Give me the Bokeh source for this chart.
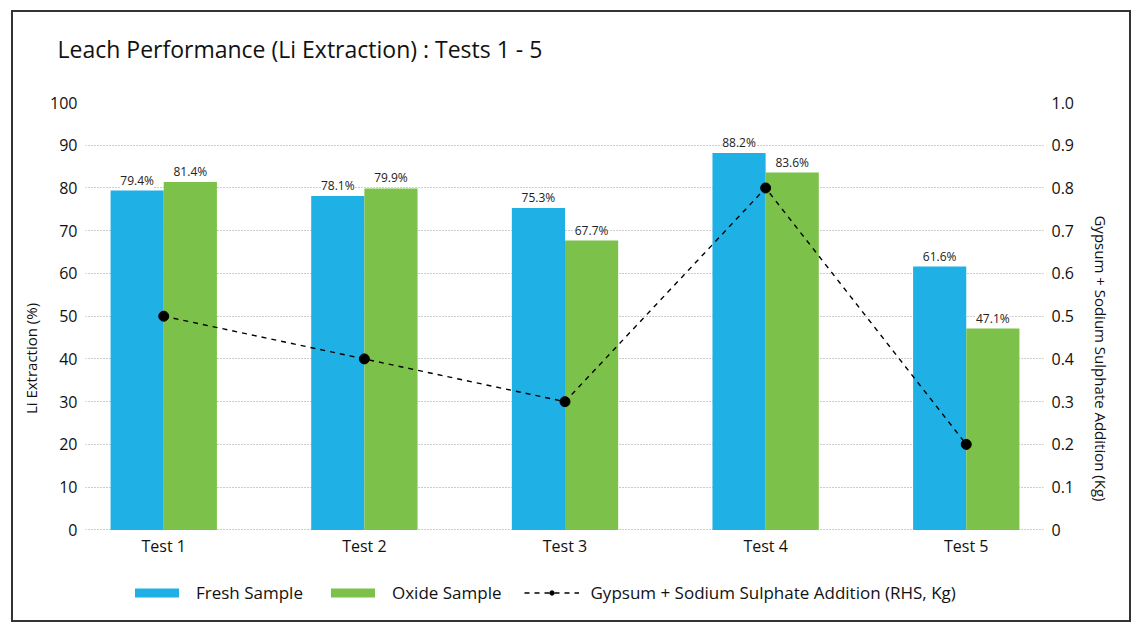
from bokeh.plotting import figure
from bokeh.models import (Range1d, LinearAxis, FixedTicker, ColumnDataSource, LabelSet,
                          Legend, LegendItem, Title)
from bokeh.core.properties import value
from bokeh.transform import dodge
from bokeh.embed import file_html
from bokeh.resources import INLINE

tests = ["Test 1", "Test 2", "Test 3", "Test 4", "Test 5"]
fresh = [79.4, 78.1, 75.3, 88.2, 61.6]
oxide = [81.4, 79.9, 67.7, 83.6, 47.1]
gypsum = [0.5, 0.4, 0.3, 0.8, 0.2]
left_ticks = [0, 10, 20, 30, 40, 50, 60, 70, 80, 90, 100]
right_ticks = [0, 0.1, 0.2, 0.3, 0.4, 0.5, 0.6, 0.7, 0.8, 0.9, 1.0]
title_text = "Leach Performance (Li Extraction) : Tests 1 - 5"

FONT = "Open Sans"
BLUE = "#1fb1e6"
GREEN = "#7cc24a"
BW = 0.265

xs = list(range(1, len(tests) + 1))
src = ColumnDataSource(dict(
    x=xs, fresh=fresh, oxide=oxide, gyp=gypsum, zero=[0] * len(xs), names=tests,
    fresh_lbl=[f"{v:.1f}%" for v in fresh],
    oxide_lbl=[f"{v:.1f}%" for v in oxide],
))

# frame extends below zero to host the category labels and the legend
LOW = -19.8
W, H = 1120, 612
p = figure(width=W, height=H, output_backend="svg", toolbar_location=None, title=None,
           x_range=Range1d(0.61, 5.385), y_range=Range1d(LOW, 100),
           min_border_left=72, min_border_right=90, min_border_top=90,
           min_border_bottom=10, background_fill_color="white",
           border_fill_color="white", outline_line_color=None)
p.margin = (10, 0, 0, 11)
p.styles = {"border": "2px solid #333"}

# spacer between frame and title, then the title itself
p.add_layout(Title(text=" ", text_font_size="1px", standoff=35), "above")
p.add_layout(Title(text=title_text, text_font=FONT, text_font_size="23px",
                   text_font_style="normal", text_color="#111", standoff=0,
                   offset=-28), "above")

p.extra_y_ranges = {"right": Range1d(LOW / 100, 1)}

fb = p.vbar(x=dodge("x", -BW / 2), top="fresh", width=BW, source=src,
            fill_color=BLUE, line_color=None)
ob = p.vbar(x=dodge("x", BW / 2), top="oxide", width=BW, source=src,
            fill_color=GREEN, line_color=None)

for col, off in (("fresh", -BW / 2), ("oxide", BW / 2)):
    p.add_layout(LabelSet(x=dodge("x", off), y=col, text=col + "_lbl", source=src,
                          text_align="center", text_baseline="bottom", y_offset=2,
                          text_font=value(FONT), text_font_size=value("12px"),
                          text_color="#222", background_fill_color="white"))

ln = p.line(x="x", y="gyp", source=src, y_range_name="right", line_color="black",
            line_width=1.4, line_dash="5 5")
sc = p.scatter(x="x", y="gyp", source=src, y_range_name="right", size=10,
               fill_color="black", line_color="black")

# category labels under the zero line
p.add_layout(LabelSet(x="x", y="zero", text="names", source=src, text_align="center",
                      text_baseline="top", y_offset=-5, text_font=value(FONT),
                      text_font_size=value("16px"), text_color="#111"))
p.xaxis.visible = False

# axes
p.yaxis.ticker = FixedTicker(ticks=left_ticks)
p.yaxis.axis_label = "Li Extraction (%)"

ra = LinearAxis(y_range_name="right", ticker=FixedTicker(ticks=right_ticks),
                axis_label="Gypsum + Sodium Sulphate Addition (Kg)")
ra.major_label_overrides = {t: ("0" if t == 0 else f"{t:.1f}") for t in right_ticks}
p.add_layout(ra, "right")

for ax in (p.yaxis[0], ra):
    ax.axis_line_color = None
    ax.major_tick_line_color = None
    ax.minor_tick_line_color = None
    ax.major_tick_out = 0
    ax.major_tick_in = 0
    ax.minor_tick_out = 0
    ax.major_label_text_font = FONT
    ax.major_label_text_font_size = "16px"
    ax.major_label_text_color = "#111"
    ax.axis_label_text_font = FONT
    ax.axis_label_text_font_size = "15px"
    ax.axis_label_text_font_style = "normal"
    ax.axis_label_text_color = "#111"
    ax.major_label_standoff = 8
p.yaxis.axis_label_standoff = 6
ra.axis_label_standoff = 14

p.xgrid.grid_line_color = None
p.ygrid.ticker = FixedTicker(ticks=left_ticks)
p.ygrid.grid_line_color = "#999"
p.ygrid.grid_line_dash = "1 2"
p.ygrid.grid_line_width = 1

legend = Legend(items=[
    LegendItem(label="Fresh Sample", renderers=[fb]),
    LegendItem(label="Oxide Sample", renderers=[ob]),
    LegendItem(label="Gypsum + Sodium Sulphate Addition (RHS, Kg)", renderers=[ln, sc]),
], orientation="horizontal", location=(44, 10), border_line_color=None,
    background_fill_alpha=0, label_text_font=FONT, label_text_font_size="17px",
    label_text_color="#111", glyph_width=55, glyph_height=11, spacing=22,
    label_standoff=12, margin=0, padding=6)
p.add_layout(legend, "center")

open("out.html", "w").write(file_html(p, INLINE))
